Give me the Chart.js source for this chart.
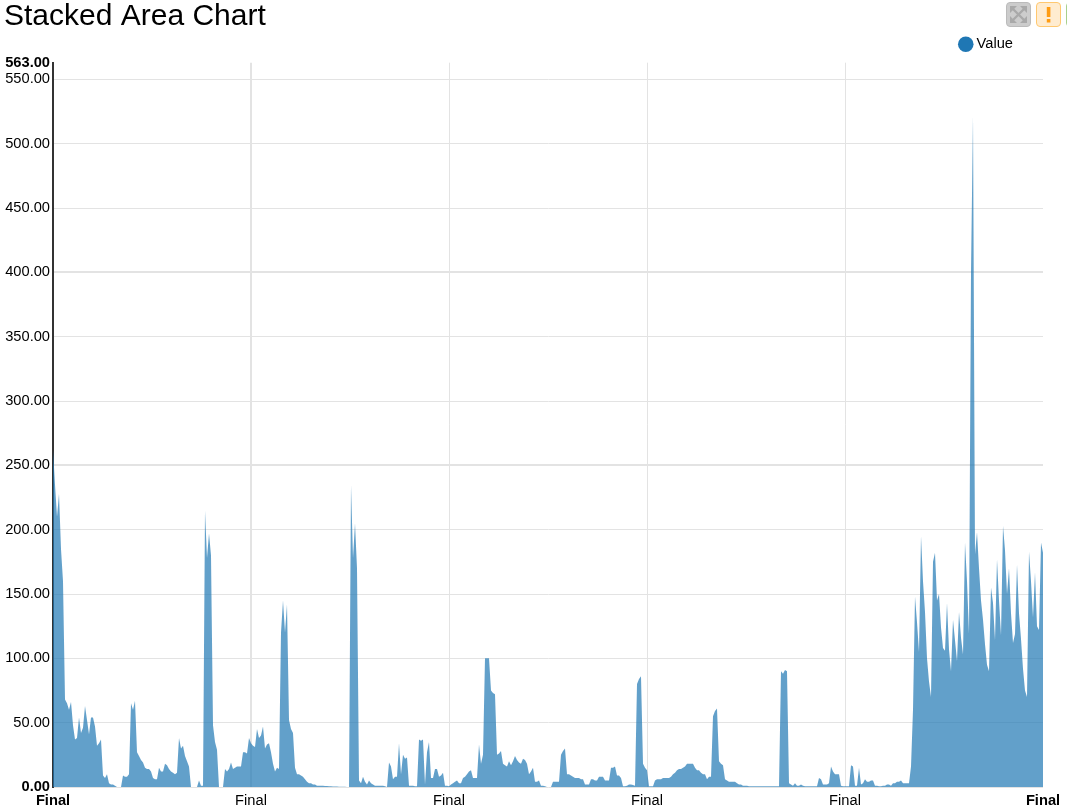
<!DOCTYPE html>
<html>
<head>
<meta charset="utf-8">
<script src="https://cdn.jsdelivr.net/npm/chart.js@4"></script>
<style>
html,body{margin:0;padding:0;background:#fff;overflow:hidden}
#wrap{position:relative;width:1067px;height:812px}
canvas{display:block}
.btn{position:absolute;top:2px;width:23px;height:23px;border-radius:4px;box-sizing:content-box;border:1px solid}
</style>
</head>
<body>
<div id="wrap">
<canvas id="c" width="1067" height="812"></canvas>
<div class="btn" style="left:1006px;background:#ccc;border-color:#bbb">
<svg width="23" height="23" viewBox="0 0 23 23"><g fill="none" stroke="#a9a9a9" stroke-width="2.4"><path d="M5 5L18 18M18 5L5 18"/></g><g fill="#a9a9a9"><path d="M3 3h7l-7 7zM20 3h-7l7 7zM3 20h7l-7-7zM20 20h-7l7-7z"/></g></svg>
</div>
<div class="btn" style="left:1036px;background:#ffecd0;border-color:#ffc870">
<svg width="23" height="23" viewBox="0 0 23 23"><path d="M9.8 4h3.6v10H9.8zM9.8 16h3.6v3.6H9.8z" fill="#ff9c12"/></svg>
</div>
<div class="btn" style="left:1066px;background:#e4f2dc;border-color:#a8d08d"></div>
</div>
<script>
const titleText = 'Stacked Area Chart';
const seriesName = 'Value';
const yTicks = [0,50,100,150,200,250,300,350,400,450,500,550,563];
const labelEvery = 99;
const values = [
262,235,210,228,185,160,68,65,60,66,
48,37,38,54,42,46,63,52,41,54,
54,47,32,34,37,9,7,10,3,2,
2,1,0,0,0,9,8,8,10,65,
60,67,27,24,21,19,15,14,14,12,
7,6,6,15,12,12,18,17,14,12,
11,10,11,38,30,32,24,20,16,0,
0,0,0,5,1,1,215,178,197,180,
48,35,29,0,0,0,14,12,14,19,
14,15,16,16,16,27,27,26,38,34,
32,31,45,38,40,47,30,33,34,27,
18,12,15,14,120,145,120,142,52,45,
42,15,10,10,9,8,6,4,3,3,
2,2,1,1,1,1,0.8,0.7,0.6,0.5,
0.4,0.3,0.3,0.2,0.2,0.1,0.1,0,0,235,
178,205,170,5,3,8,4,2,5,3,
2,1,1,1,1,1,0.5,0,19,16,
6,8,8,34,10,25,22,23,1,1,
1,0.5,0.5,37,36,37,2,27,35,7,
7,14,14,8,9,11,1,1,0.5,2,
3,4,5,3,3,7,8,10,12,13,
7,7,7,33,18,25,100,100,100,75,
73,72,25,26,28,18,17,16,20,17,
20,24,21,19,18,22,21,18,10,12,
15,4,4,5,1,1,0.5,0,0,0,
4,4,4,4,25,28,30,10,10,9,
8,7,7,7,6,6,2,2,2,6,
6,5,5,8,8,8,5,5,5,15,
15,16,9,9,7,0.5,0.5,1,2,2,
1.5,1,80,84,86,18,15,13,0.5,0.5,
0.5,5,6,6,6,7,7,7,7,8,
10,11,13,14,14,15,16,18,18,18,
18,15,13,13,11,10,10,6,8,8,
55,59,61,20,18,17,6,5,4,4,
4,4,3,2,2,1,1,1,0.5,0.5,
0.5,0.5,0.5,0.5,0.5,0.5,0.5,0.5,0.5,0.5,
0.5,0.5,0.5,0.5,90,88,91,90,3,2,
1,3,1,1,2,1,0.5,0.5,0.5,0.5,
0.5,0.5,0.5,7,6,2,2,2,3,16,
12,10,10,10,1,0.5,0.5,0.5,0.5,17,
16,1,1,15,2,3,6,4,4,5,
5,1,1,0.5,0.5,1,1,2,2,1,
3,3,4,4,5,3,3,3,3,16,
60,148,128,105,195,160,136,100,82,70,
175,182,145,150,124,108,106,143,107,90,
130,114,98,136,116,103,190,160,119,400,
522,181,198,170,145,130,111,95,90,155,
143,114,177,145,118,203,184,150,170,135,
112,119,173,135,115,92,75,70,183,160,
132,167,125,122,190,182
];
const categories = values.map(() => 'Final');

const FONT = 'Arial, "Liberation Sans", sans-serif';
const SIZE = 14.67;
const GRID = '#e3e3e3';

const placeBlocks = {
  id: 'placeBlocks',
  afterLayout(chart) {
    chart.legend.right -= 22;
    chart.legend.top -= 1;
    chart.titleBlock.top += 2;
    chart.titleBlock.bottom += 2;
  }
};

new Chart(document.getElementById('c'), {
  type: 'line',
  plugins: [placeBlocks],
  data: {
    labels: categories,
    datasets: [{
      label: seriesName,
      data: values,
      fill: 'origin',
      backgroundColor: 'rgba(31,119,180,0.7)',
      borderWidth: 0,
      pointRadius: 0,
      tension: 0
    }]
  },
  options: {
    responsive: false,
    animation: false,
    layout: { padding: { left: 4, right: 24, top: 0, bottom: 0 } },
    plugins: {
      title: {
        display: true, text: titleText, align: 'start', color: '#000',
        font: { family: FONT, size: 30, weight: 'normal', lineHeight: 1 },
        padding: { top: 0, bottom: 0 }
      },
      legend: {
        display: true, align: 'end',
        labels: {
          font: { family: FONT, size: SIZE }, color: '#000',
          usePointStyle: true, pointStyle: 'circle', boxWidth: 7, boxHeight: 11, padding: 8,
          generateLabels: () => [{ text: seriesName, fillStyle: '#1f77b4', strokeStyle: '#1f77b4', lineWidth: 0, pointStyle: 'circle', datasetIndex: 0 }]
        }
      },
      tooltip: { enabled: false }
    },
    scales: {
      x: {
        type: 'category',
        offset: false,
        afterBuildTicks(scale) {
          scale.ticks = scale.ticks.filter(t => t.value % labelEvery === 0);
        },
        afterFit(scale) { scale.height = 25; },
        grid: {
          color: ctx => ctx.tick && ctx.tick.value === values.length - 1 ? 'rgba(0,0,0,0)' : GRID,
          lineWidth: ctx => ctx.tick && ctx.tick.value === labelEvery ? 2 : 1,
          drawTicks: false
        },
        border: { display: false },
        ticks: {
          autoSkip: false, maxRotation: 0, minRotation: 0, padding: 5, color: '#000',
          font: ctx => ({
            family: FONT, size: SIZE,
            weight: (ctx.tick && (ctx.tick.value === 0 || ctx.tick.value === values.length - 1)) ? 'bold' : 'normal'
          })
        }
      },
      y: {
        type: 'linear', min: 0, max: 563,
        afterBuildTicks(scale) { scale.ticks = yTicks.map(v => ({ value: v })); },
        afterFit(scale) { scale.width = 49; },
        grid: {
          color: ctx => ctx.tick && ctx.tick.value === 563 ? 'rgba(0,0,0,0)' : GRID,
          lineWidth: ctx => ctx.tick && (ctx.tick.value === 250 || ctx.tick.value === 400) ? 2 : 1,
          drawTicks: false
        },
        border: { display: true, color: '#333', width: 2 },
        ticks: {
          padding: 3, color: '#000', autoSkip: false,
          callback: v => Number(v).toFixed(2),
          font: ctx => ({
            family: FONT, size: SIZE,
            weight: (ctx.tick && (ctx.tick.value === 0 || ctx.tick.value === 563)) ? 'bold' : 'normal'
          })
        }
      }
    }
  }
});
</script>
</body>
</html>
